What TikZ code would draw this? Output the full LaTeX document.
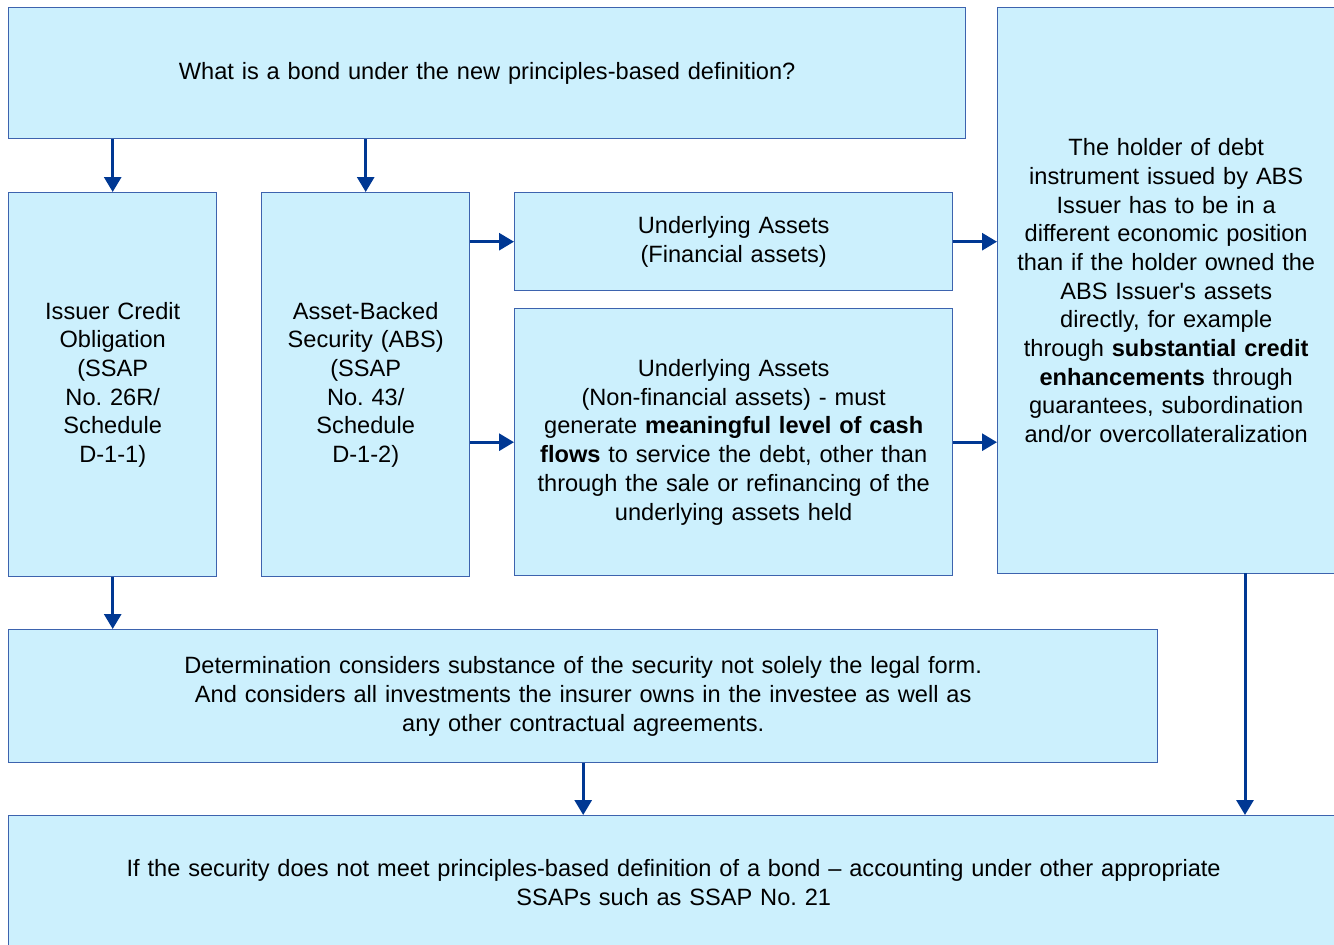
\documentclass[tikz,border=0pt]{standalone}
\usepackage{fontspec}
\setmainfont{Liberation Sans}
\usetikzlibrary{arrows.meta, positioning}

\definecolor{boxfill}{HTML}{CCF0FD}
\definecolor{boxline}{HTML}{3D63AE}
\definecolor{arrowblue}{HTML}{003893}

\tikzset{
    infobox/.style={draw=boxline, fill=boxfill, line width=1.4pt, inner sep=0pt,
        anchor=north west, align=center, font=\fontsize{23.6}{28.7}\selectfont\frenchspacing},
    flowarrow/.style={draw=arrowblue, line width=3pt,
        -{Triangle[length=15pt, width=17pt]}}
}

\begin{document}
\begin{tikzpicture}[x=1pt, y=-1pt]

            \useasboundingbox (0,0) rectangle (1334,945);

            % Top question
            \node (question) at (8,7) [infobox, text width=957pt, minimum height=131pt]
                {What is a bond under the new principles-based definition?};

            % The two kinds of bond
            \node (ico) at (8,192) [infobox, text width=208pt, minimum height=384pt]
                {Issuer Credit\\Obligation\\(SSAP\\No. 26R/\\Schedule\\D-1-1)};
            \node (abs) at (261,192) [infobox, text width=208pt, minimum height=384pt]
                {Asset-Backed\\Security (ABS)\\(SSAP\\No. 43/\\Schedule\\D-1-2)};

            % Underlying assets
            \node (finassets) at (514,192) [infobox, text width=438pt, minimum height=98pt]
                {Underlying Assets\\(Financial assets)};
            \node (nonfinassets) at (514,308) [infobox, text width=438pt, minimum height=267pt]
                {Underlying Assets\\(Non-financial assets) - must\\generate \textbf{meaningful level of cash}\\\textbf{flows} to service the debt, other than\\through the sale or refinancing of the\\underlying assets held};

            % Holder position
            \node (holder) at (997,7) [infobox, text width=337pt, minimum height=566pt]
                {The holder of debt\\instrument issued by ABS\\Issuer has to be in a\\different economic position\\than if the holder owned the\\ABS Issuer\textquotesingle s assets\\directly, for example\\through \textbf{substantial credit}\\\textbf{enhancements} through\\guarantees, subordination\\and/or overcollateralization};

            % Determination and fallback
            \node (determination) at (8,629) [infobox, text width=1149pt, minimum height=133pt]
                {Determination considers substance of the security not solely the legal form.\\And considers all investments the insurer owns in the investee as well as\\any other contractual agreements.};
            \node (fallback) at (8,815) [infobox, text width=1330pt, minimum height=134pt]
                {If the security does not meet principles-based definition of a bond -- accounting under other appropriate\\SSAPs such as SSAP No. 21};

            % Arrows
            \coordinate (holderout) at (1245,573);
            \draw[flowarrow] (question.south -| ico.north) -- (ico.north);
            \draw[flowarrow] (question.south -| abs.north) -- (abs.north);
            \draw[flowarrow] (abs.east |- finassets.west) -- (finassets.west);
            \draw[flowarrow] (abs.east |- nonfinassets.west) -- (nonfinassets.west);
            \draw[flowarrow] (finassets.east) -- (finassets.east -| holder.west);
            \draw[flowarrow] (nonfinassets.east) -- (nonfinassets.east -| holder.west);
            \draw[flowarrow] (ico.south) -- (ico.south |- determination.north);
            \draw[flowarrow] (determination.south) -- (determination.south |- fallback.north);
            \draw[flowarrow] (holderout) -- (holderout |- fallback.north);

        \end{tikzpicture}
\end{document}
